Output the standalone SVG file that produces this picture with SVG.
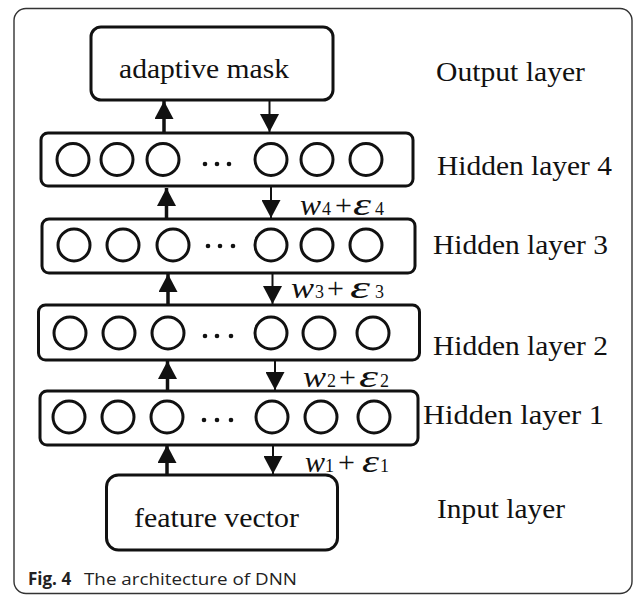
<svg xmlns="http://www.w3.org/2000/svg" width="634" height="596" viewBox="0 0 634 596">
<style>
.frame{fill:none;stroke:#333;stroke-width:1.4}
.box{fill:#fff;stroke:#111;stroke-width:3}
.n{fill:none;stroke:#111;stroke-width:3}
.dot{fill:#111}
.lbl{font-family:"Liberation Serif","Times New Roman",serif;font-size:28px;fill:#111}
.up{stroke:#111;stroke-width:3.5;fill:none;marker-end:url(#ah)}
.dn{stroke:#111;stroke-width:2;fill:none;marker-end:url(#ah)}
.w{font-family:"Liberation Serif","Times New Roman",serif;fill:#111}
.wv{font-size:29px;font-style:italic}
.pl{font-size:30px}
.ep{font-size:31px;font-style:italic}
.sb{font-size:18px}
.cap{font-family:"Open Sans","Noto Sans","Liberation Sans",sans-serif;font-size:17px;fill:#222}
</style>
<defs>
<marker id="ah" markerUnits="userSpaceOnUse" markerWidth="18" markerHeight="19" refX="18" refY="9.5" orient="auto">
<path d="M0,0 L18,9.5 L0,19 z" fill="#111"/>
</marker>
</defs>
<rect class="frame" x="14" y="8.5" width="618" height="585" rx="12"/>

<g id="output">
<rect class="box" x="91" y="27" width="242" height="73" rx="10"/>
<text class="lbl" x="119" y="78" textLength="170" lengthAdjust="spacingAndGlyphs">adaptive mask</text>
</g>
<text class="lbl" x="436" y="80.5" textLength="149" lengthAdjust="spacingAndGlyphs">Output layer</text>

<g id="hidden4">
<rect class="box" x="41" y="133" width="372" height="53" rx="7"/>
<circle class="n" cx="73" cy="159.5" r="16"/>
<circle class="n" cx="117" cy="159.5" r="16"/>
<circle class="n" cx="163" cy="159.5" r="16"/>
<circle class="dot" cx="205" cy="164" r="2.3"/>
<circle class="dot" cx="217" cy="164" r="2.3"/>
<circle class="dot" cx="229" cy="164" r="2.3"/>
<circle class="n" cx="271" cy="159.5" r="16"/>
<circle class="n" cx="317" cy="159.5" r="16"/>
<circle class="n" cx="366" cy="159.5" r="16"/>
</g>
<text class="lbl" x="437" y="175" textLength="175" lengthAdjust="spacingAndGlyphs">Hidden layer 4</text>

<g id="hidden3">
<rect class="box" x="42" y="219" width="373" height="54" rx="7"/>
<circle class="n" cx="74" cy="245" r="16"/>
<circle class="n" cx="123" cy="245" r="16"/>
<circle class="n" cx="173" cy="245" r="16"/>
<circle class="dot" cx="208" cy="246" r="2.3"/>
<circle class="dot" cx="220" cy="246" r="2.3"/>
<circle class="dot" cx="233" cy="246" r="2.3"/>
<circle class="n" cx="271" cy="245" r="16"/>
<circle class="n" cx="317" cy="245" r="16"/>
<circle class="n" cx="366" cy="245" r="16"/>
</g>
<text class="lbl" x="433" y="254" textLength="175" lengthAdjust="spacingAndGlyphs">Hidden layer 3</text>

<g id="hidden2">
<rect class="box" x="38.5" y="305" width="381" height="55" rx="7"/>
<circle class="n" cx="70" cy="333" r="16"/>
<circle class="n" cx="119" cy="333" r="16"/>
<circle class="n" cx="168" cy="333" r="16"/>
<circle class="dot" cx="205" cy="336" r="2.3"/>
<circle class="dot" cx="217" cy="336" r="2.3"/>
<circle class="dot" cx="231" cy="336" r="2.3"/>
<circle class="n" cx="271" cy="333" r="16"/>
<circle class="n" cx="319" cy="333" r="16"/>
<circle class="n" cx="373" cy="333" r="16"/>
</g>
<text class="lbl" x="433" y="355" textLength="175" lengthAdjust="spacingAndGlyphs">Hidden layer 2</text>

<g id="hidden1">
<rect class="box" x="40" y="391" width="378" height="54" rx="7"/>
<circle class="n" cx="69" cy="417" r="16"/>
<circle class="n" cx="118" cy="417" r="16"/>
<circle class="n" cx="167" cy="417" r="16"/>
<circle class="dot" cx="204" cy="420" r="2.3"/>
<circle class="dot" cx="217" cy="420" r="2.3"/>
<circle class="dot" cx="231" cy="420" r="2.3"/>
<circle class="n" cx="272" cy="417" r="16"/>
<circle class="n" cx="321" cy="417" r="16"/>
<circle class="n" cx="374" cy="417" r="16"/>
</g>
<text class="lbl" x="423" y="424" textLength="181" lengthAdjust="spacingAndGlyphs">Hidden layer 1</text>

<g id="input">
<rect class="box" x="106.5" y="475" width="231" height="75" rx="12"/>
<text class="lbl" x="134" y="527" textLength="165" lengthAdjust="spacingAndGlyphs">feature vector</text>
</g>
<text class="lbl" x="437" y="518" textLength="128" lengthAdjust="spacingAndGlyphs">Input layer</text>

<g id="connectors">
<line class="up" x1="164" y1="133" x2="164" y2="101"/>
<line class="dn" x1="269.5" y1="100" x2="269.5" y2="132"/>
<line class="up" x1="166.5" y1="219" x2="166.5" y2="188"/>
<line class="dn" x1="271" y1="186" x2="271" y2="218"/>
<line class="up" x1="168" y1="305" x2="168" y2="274"/>
<line class="dn" x1="272.5" y1="273" x2="272.5" y2="304"/>
<line class="up" x1="167.5" y1="391" x2="167.5" y2="361"/>
<line class="dn" x1="275" y1="360" x2="275" y2="390"/>
<line class="up" x1="167" y1="475" x2="167" y2="445"/>
<line class="dn" x1="273" y1="445" x2="273" y2="474"/>
</g>

<g id="weights" class="w">
<text y="215"><tspan class="wv" x="300" textLength="21" lengthAdjust="spacingAndGlyphs">w</tspan><tspan class="sb" x="322">4</tspan><tspan class="pl" x="335">+</tspan><tspan class="ep" x="353" textLength="18" lengthAdjust="spacingAndGlyphs">ε</tspan><tspan class="sb" x="375">4</tspan></text>
<text y="298"><tspan class="wv" x="291" textLength="23" lengthAdjust="spacingAndGlyphs">w</tspan><tspan class="sb" x="315">3</tspan><tspan class="pl" x="327">+</tspan><tspan class="ep" x="350" textLength="20" lengthAdjust="spacingAndGlyphs">ε</tspan><tspan class="sb" x="375">3</tspan></text>
<text y="387"><tspan class="wv" x="303" textLength="23" lengthAdjust="spacingAndGlyphs">w</tspan><tspan class="sb" x="327">2</tspan><tspan class="pl" x="339">+</tspan><tspan class="ep" x="359" textLength="19" lengthAdjust="spacingAndGlyphs">ε</tspan><tspan class="sb" x="380">2</tspan></text>
<text y="472"><tspan class="wv" x="305" textLength="20" lengthAdjust="spacingAndGlyphs">w</tspan><tspan class="sb" x="325">1</tspan><tspan class="pl" x="338">+</tspan><tspan class="ep" x="362" textLength="17" lengthAdjust="spacingAndGlyphs">ε</tspan><tspan class="sb" x="380">1</tspan></text>
</g>

<text class="cap" x="28" y="585"><tspan font-weight="bold">Fig. 4</tspan><tspan x="84" textLength="213" lengthAdjust="spacingAndGlyphs">The architecture of DNN</tspan></text>
</svg>
